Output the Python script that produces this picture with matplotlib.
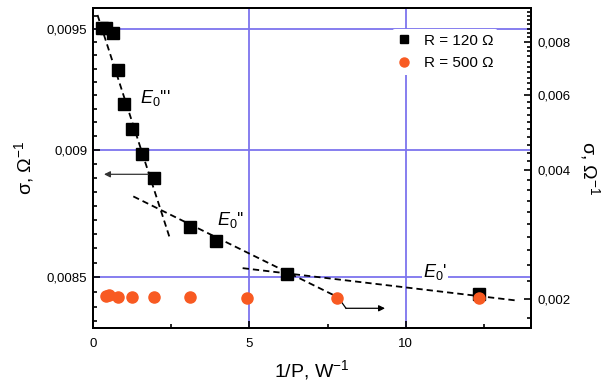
import numpy as np
import matplotlib
matplotlib.use("Agg")
import matplotlib.pyplot as plt
from matplotlib.ticker import FixedLocator, FixedFormatter, NullFormatter
from matplotlib.lines import Line2D

plt.rcParams['font.family'] = ['Liberation Sans', 'DejaVu Sans']
plt.rcParams['mathtext.fontset'] = 'custom'
plt.rcParams['mathtext.rm'] = 'Liberation Sans'
plt.rcParams['mathtext.it'] = 'Liberation Sans:italic'

# ---- data ----
x_r120 = [0.28, 0.41, 0.65, 0.79, 1.00, 1.26, 1.58, 1.96, 3.10, 3.92, 6.21, 12.34]
s_r120 = [0.009504, 0.009504, 0.009483, 0.009328, 0.009186, 0.009085, 0.008983,
          0.008886, 0.008695, 0.008641, 0.008512, 0.008437]
x_r500 = [0.415, 0.52, 0.79, 1.25, 1.95, 3.10, 4.91, 7.79, 12.34]
s_r500 = [0.002033, 0.002040, 0.002025, 0.002025, 0.002018, 0.002018, 0.002011,
          0.002008, 0.002008]

# dashed fit lines (E0''', E0'', E0') : endpoints on left axis
fit3_x = [0.144, 2.438]
fit3_s = [0.009561, 0.008657]
fit2_x = [1.288, 7.786]
fit2_s = [0.008814, 0.008427]
fit1_x = [4.783, 13.537]
fit1_s = [0.008535, 0.008412]

x_ticks = [0, 5, 10]
x_ticklabels = ['0', '5', '10']
left_ticks = [0.0085, 0.009, 0.0095]
left_ticklabels = ['0,0085', '0,009', '0,0095']
right_ticks = [0.002, 0.004, 0.006, 0.008]
right_ticklabels = ['0,002', '0,004', '0,006', '0,008']

grid_color = '#7d74ee'
orange = '#f85a22'

fig = plt.figure(figsize=(6.14, 3.87), dpi=100)
ax = fig.add_axes([93/614, 59/387, 438/614, 320/387])
ax2 = ax.twinx()

ax.set_xscale('linear')
ax.set_yscale('log')
ax2.set_yscale('log')
ax.set_xlim(0, 14)
ax.set_ylim(0.008309, 0.009591)
ax2.set_ylim(0.00171, 0.00961)

# ticks
ax.xaxis.set_major_locator(FixedLocator(x_ticks))
ax.xaxis.set_major_formatter(FixedFormatter(x_ticklabels))
ax.xaxis.set_minor_locator(FixedLocator([2.5, 7.5, 12.5]))

ax.yaxis.set_major_locator(FixedLocator(left_ticks))
ax.yaxis.set_major_formatter(FixedFormatter(left_ticklabels))
lmin = []
for a in (0.0080, 0.0085, 0.0090, 0.0095):
    lmin += list(a + np.arange(1, 9) * 0.0005 / 9)
ax.yaxis.set_minor_locator(FixedLocator(lmin))
ax.yaxis.set_minor_formatter(NullFormatter())

ax2.yaxis.set_major_locator(FixedLocator(right_ticks))
ax2.yaxis.set_major_formatter(FixedFormatter(right_ticklabels))
rmin = [v for v in np.arange(0.0016, 0.0098, 0.0002)
        if all(abs(v - t) > 1e-7 for t in right_ticks)]
ax2.yaxis.set_minor_locator(FixedLocator(rmin))
ax2.yaxis.set_minor_formatter(NullFormatter())

ax.tick_params(axis='both', which='both', direction='in', labelsize=9.5,
               top=False, right=False, width=1.2)
ax.tick_params(axis='both', which='major', length=5)
ax.tick_params(axis='both', which='minor', length=3)
ax.tick_params(axis='x', pad=7)
ax.tick_params(axis='y', pad=4)
ax2.tick_params(axis='y', which='both', direction='in', labelsize=9.5, width=1.2, pad=5)
ax2.tick_params(axis='y', which='major', length=5)
ax2.tick_params(axis='y', which='minor', length=3)

for sp in ax.spines.values():
    sp.set_linewidth(1.4)
for sp in ax2.spines.values():
    sp.set_linewidth(1.4)

ax.set_axisbelow(True)
ax.grid(True, which='major', color=grid_color, linewidth=1.3)

# fit lines
dash = (3.5, 2.2)
for fx, fs in ((fit3_x, fit3_s), (fit2_x, fit2_s), (fit1_x, fit1_s)):
    ax.plot(fx, fs, color='black', linestyle=(0, dash), linewidth=1.3, zorder=2)

# data
ax.plot(x_r120, s_r120, linestyle='none', marker='s', markersize=8,
        color='black', zorder=3)
ax2.plot(x_r500, s_r500, linestyle='none', marker='o', markersize=8,
         color=orange, markeredgecolor=orange, zorder=3)

# labels on the curves
ax.text(0.1073, 0.703, r"$E_0$'''", transform=ax.transAxes, fontsize=13,
        va='baseline', ha='left', zorder=4)
ax.text(0.2824, 0.322, r"$E_0$''", transform=ax.transAxes, fontsize=13,
        va='baseline', ha='left', zorder=4)
ax.text(0.7534, 0.160, r"$E_0$'", transform=ax.transAxes, fontsize=13,
        va='baseline', ha='left', zorder=4,
        bbox=dict(facecolor='white', edgecolor='none', pad=0.5))

# arrows
ax.annotate('', xy=(0.0251, 0.4803), xytext=(0.1263, 0.4803),
            xycoords='axes fraction', textcoords='axes fraction',
            arrowprops=dict(arrowstyle='-|>', color='#333333', lw=0.9,
                            mutation_scale=9, shrinkA=0, shrinkB=0))
ax.plot([0.564, 0.5776], [0.0875, 0.0616], transform=ax.transAxes,
        color='black', lw=0.9)
ax.annotate('', xy=(0.6667, 0.0616), xytext=(0.5776, 0.0616),
            xycoords='axes fraction', textcoords='axes fraction',
            arrowprops=dict(arrowstyle='-|>', color='black', lw=0.9,
                            mutation_scale=9, shrinkA=0, shrinkB=0))

# axis labels
ax.set_xlabel(r"1/P, W$^{-1}$", fontsize=14, labelpad=6)
ax.set_ylabel(r"σ, Ω$^{-1}$", fontsize=14, labelpad=8)
ax2.set_ylabel(r"σ, Ω$^{-1}$", fontsize=14, rotation=270, labelpad=22)

# legend
handles = [Line2D([], [], linestyle='none', marker='s', markersize=5.5, color='black'),
           Line2D([], [], linestyle='none', marker='o', markersize=6.5,
                  color=orange, markeredgecolor=orange)]
leg = ax2.legend(handles, ['R = 120 Ω', 'R = 500 Ω'], loc='upper left',
                 bbox_to_anchor=((392 - 93) / 438, 1 - (29 - 8) / 320),
                 fontsize=11, frameon=True, framealpha=1, edgecolor='none',
                 facecolor='white', handlelength=1.0, handletextpad=0.8,
                 labelspacing=0.55, borderpad=0.3, borderaxespad=0)
leg.get_frame().set_linewidth(0)

fig.savefig('out.png', dpi=100)
